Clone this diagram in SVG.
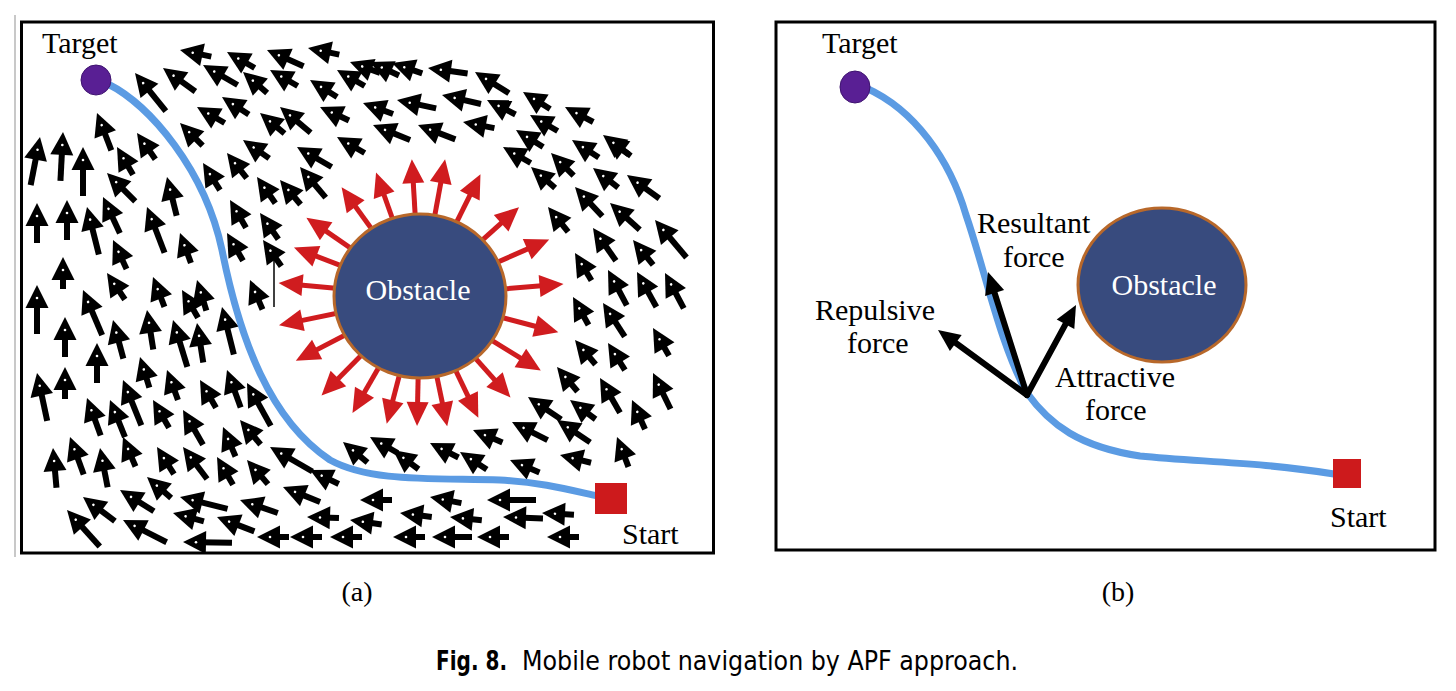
<svg xmlns="http://www.w3.org/2000/svg" xmlns:xlink="http://www.w3.org/1999/xlink" width="1456" height="691" viewBox="0 0 1456 691">
<style>
.frame{fill:none;stroke:#000;stroke-width:3}
.lbl{font-family:"Liberation Serif","Times New Roman",serif;font-size:30px;fill:#000}
.obs{font-family:"Liberation Serif","Times New Roman",serif;font-size:30px;fill:#fff;text-anchor:middle}
.cap{font-family:"Liberation Serif","Times New Roman",serif;font-size:28px;fill:#000;text-anchor:middle}
.fig{font-family:"DejaVu Sans","Liberation Sans",sans-serif;font-stretch:condensed;font-size:27px;fill:#000}
.path{fill:none;stroke:#5b9be3;stroke-width:7;stroke-linecap:round}
.force{stroke:#000;stroke-width:6;fill:none;stroke-linecap:round}
.obstacle{fill:#384b7e;stroke:#b8682a;stroke-width:3}
.target{fill:#591f94;stroke:#3f1470;stroke-width:1}
.start{fill:#cd1a1c}
</style>
<defs>
<g id="b30"><path d="M-32,0H-15" stroke="#000" stroke-width="6"/><path d="M0,0L-23,-11.5L-23,11.5Z" fill="#000"/><circle cx="-13" cy="0" r="1.3" fill="#fff"/></g>
<g id="b38"><path d="M-40,0H-15" stroke="#000" stroke-width="6"/><path d="M0,0L-23,-11.5L-23,11.5Z" fill="#000"/><circle cx="-13" cy="0" r="1.3" fill="#fff"/></g>
<g id="b48"><path d="M-49,0H-15" stroke="#000" stroke-width="6"/><path d="M0,0L-23,-11.5L-23,11.5Z" fill="#000"/><circle cx="-13" cy="0" r="1.3" fill="#fff"/></g>
<g id="ra"><path d="M60,0H120" stroke="#d01c1f" stroke-width="5"/><path d="M139,0L115,-11L115,11Z" fill="#d01c1f"/></g>
</defs>
<rect width="1456" height="691" fill="#fff"/>
<line x1="15" y1="15" x2="15" y2="557" stroke="#c8c8c8" stroke-width="2"/>

<g id="panel-a">
<rect class="frame" x="21.5" y="22" width="692" height="531"/>
<line x1="274" y1="258" x2="274" y2="307" stroke="#000" stroke-width="1.5"/>
</g>

<g id="field-a">
<use href="#b30" transform="translate(180 50) rotate(-168)"/>
<use href="#b30" transform="translate(227 52) rotate(-150)"/>
<use href="#b38" transform="translate(267 50) rotate(-156)"/>
<use href="#b30" transform="translate(308 48) rotate(-168)"/>
<use href="#b30" transform="translate(350 62) rotate(-160)"/>
<use href="#b48" transform="translate(135 73) rotate(-129)"/>
<use href="#b38" transform="translate(163 68) rotate(-144)"/>
<use href="#b38" transform="translate(203 65) rotate(-150)"/>
<use href="#b30" transform="translate(243 72) rotate(-139)"/>
<use href="#b30" transform="translate(270 70) rotate(-150)"/>
<use href="#b30" transform="translate(310 80) rotate(-148)"/>
<use href="#b30" transform="translate(337 70) rotate(-150)"/>
<use href="#b30" transform="translate(197 107) rotate(-150)"/>
<use href="#b30" transform="translate(222 97) rotate(-147)"/>
<use href="#b30" transform="translate(260 113) rotate(-140)"/>
<use href="#b38" transform="translate(280 107) rotate(-140)"/>
<use href="#b30" transform="translate(320 107) rotate(-155)"/>
<use href="#b38" transform="translate(97 113) rotate(-111)"/>
<use href="#b30" transform="translate(180 123) rotate(-135)"/>
<use href="#b30" transform="translate(137 133) rotate(-125)"/>
<use href="#b30" transform="translate(117 147) rotate(-120)"/>
<use href="#b30" transform="translate(243 140) rotate(-145)"/>
<use href="#b38" transform="translate(297 147) rotate(-150)"/>
<use href="#b30" transform="translate(337 137) rotate(-150)"/>
<use href="#b48" transform="translate(40 137) rotate(-79)"/>
<use href="#b48" transform="translate(63 132) rotate(-87)"/>
<use href="#b48" transform="translate(83 147) rotate(-90)"/>
<use href="#b38" transform="translate(107 173) rotate(-135)"/>
<use href="#b38" transform="translate(167 177) rotate(-104)"/>
<use href="#b30" transform="translate(203 163) rotate(-122)"/>
<use href="#b30" transform="translate(227 153) rotate(-128)"/>
<use href="#b30" transform="translate(257 177) rotate(-125)"/>
<use href="#b30" transform="translate(280 180) rotate(-130)"/>
<use href="#b38" transform="translate(300 167) rotate(-130)"/>
<use href="#b38" transform="translate(37 203) rotate(-90)"/>
<use href="#b38" transform="translate(67 200) rotate(-90)"/>
<use href="#b48" transform="translate(87 207) rotate(-104)"/>
<use href="#b38" transform="translate(103 197) rotate(-115)"/>
<use href="#b48" transform="translate(147 207) rotate(-111)"/>
<use href="#b30" transform="translate(230 200) rotate(-120)"/>
<use href="#b30" transform="translate(260 213) rotate(-125)"/>
<use href="#b30" transform="translate(180 233) rotate(-110)"/>
<use href="#b30" transform="translate(227 233) rotate(-120)"/>
<use href="#b30" transform="translate(113 240) rotate(-115)"/>
<use href="#b30" transform="translate(63 257) rotate(-90)"/>
<use href="#b30" transform="translate(263 240) rotate(-125)"/>
<use href="#b30" transform="translate(370 62) rotate(-155)"/>
<use href="#b30" transform="translate(392 63) rotate(-161)"/>
<use href="#b38" transform="translate(428 68) rotate(-172)"/>
<use href="#b38" transform="translate(475 72) rotate(-148)"/>
<use href="#b30" transform="translate(523 92) rotate(-148)"/>
<use href="#b30" transform="translate(565 107) rotate(-152)"/>
<use href="#b30" transform="translate(605 137) rotate(-144)"/>
<use href="#b38" transform="translate(627 175) rotate(-144)"/>
<use href="#b48" transform="translate(655 220) rotate(-130)"/>
<use href="#b30" transform="translate(363 103) rotate(-160)"/>
<use href="#b38" transform="translate(397 100) rotate(-168)"/>
<use href="#b38" transform="translate(442 95) rotate(-167)"/>
<use href="#b30" transform="translate(487 100) rotate(-153)"/>
<use href="#b30" transform="translate(530 115) rotate(-150)"/>
<use href="#b30" transform="translate(572 140) rotate(-147)"/>
<use href="#b30" transform="translate(593 168) rotate(-142)"/>
<use href="#b38" transform="translate(373 125) rotate(-158)"/>
<use href="#b38" transform="translate(418 125) rotate(-159)"/>
<use href="#b30" transform="translate(463 122) rotate(-169)"/>
<use href="#b30" transform="translate(516 130) rotate(-148)"/>
<use href="#b30" transform="translate(503 147) rotate(-150)"/>
<use href="#b30" transform="translate(551 153) rotate(-135)"/>
<use href="#b30" transform="translate(531 167) rotate(-139)"/>
<use href="#b30" transform="translate(603 135) rotate(-143)"/>
<use href="#b38" transform="translate(575 187) rotate(-133)"/>
<use href="#b38" transform="translate(610 203) rotate(-138)"/>
<use href="#b30" transform="translate(548 207) rotate(-129)"/>
<use href="#b38" transform="translate(593 228) rotate(-125)"/>
<use href="#b30" transform="translate(633 240) rotate(-129)"/>
<use href="#b30" transform="translate(575 253) rotate(-121)"/>
<use href="#b38" transform="translate(608 270) rotate(-118)"/>
<use href="#b38" transform="translate(637 272) rotate(-119)"/>
<use href="#b38" transform="translate(665 273) rotate(-118)"/>
<use href="#b30" transform="translate(573 297) rotate(-119)"/>
<use href="#b38" transform="translate(603 303) rotate(-123)"/>
<use href="#b30" transform="translate(653 328) rotate(-120)"/>
<use href="#b30" transform="translate(575 340) rotate(-130)"/>
<use href="#b30" transform="translate(608 343) rotate(-122)"/>
<use href="#b30" transform="translate(557 367) rotate(-130)"/>
<use href="#b38" transform="translate(600 378) rotate(-120)"/>
<use href="#b38" transform="translate(653 373) rotate(-116)"/>
<use href="#b38" transform="translate(528 397) rotate(-146)"/>
<use href="#b30" transform="translate(570 400) rotate(-143)"/>
<use href="#b30" transform="translate(632 400) rotate(-114)"/>
<use href="#b38" transform="translate(512 422) rotate(-153)"/>
<use href="#b38" transform="translate(557 420) rotate(-146)"/>
<use href="#b30" transform="translate(617 437) rotate(-111)"/>
<use href="#b30" transform="translate(473 430) rotate(-157)"/>
<use href="#b30" transform="translate(430 443) rotate(-153)"/>
<use href="#b30" transform="translate(393 450) rotate(-143)"/>
<use href="#b30" transform="translate(370 437) rotate(-150)"/>
<use href="#b30" transform="translate(460 452) rotate(-147)"/>
<use href="#b30" transform="translate(510 460) rotate(-157)"/>
<use href="#b30" transform="translate(560 455) rotate(-166)"/>
<use href="#b30" transform="translate(343 442) rotate(-140)"/>
<use href="#b30" transform="translate(360 500) rotate(180)"/>
<use href="#b30" transform="translate(430 497) rotate(-169)"/>
<use href="#b48" transform="translate(487 500) rotate(180)"/>
<use href="#b30" transform="translate(400 513) rotate(-173)"/>
<use href="#b30" transform="translate(450 517) rotate(-174)"/>
<use href="#b38" transform="translate(503 517) rotate(-178)"/>
<use href="#b30" transform="translate(542 513) rotate(-177)"/>
<use href="#b30" transform="translate(393 537) rotate(180)"/>
<use href="#b38" transform="translate(432 537) rotate(180)"/>
<use href="#b30" transform="translate(477 537) rotate(180)"/>
<use href="#b30" transform="translate(547 537) rotate(180)"/>
<use href="#b30" transform="translate(350 520) rotate(-172)"/>
<use href="#b48" transform="translate(37 285) rotate(-90)"/>
<use href="#b38" transform="translate(65 317) rotate(-90)"/>
<use href="#b38" transform="translate(97 343) rotate(-90)"/>
<use href="#b30" transform="translate(65 367) rotate(-90)"/>
<use href="#b48" transform="translate(37 373) rotate(-102)"/>
<use href="#b38" transform="translate(53 448) rotate(-95)"/>
<use href="#b38" transform="translate(70 437) rotate(-110)"/>
<use href="#b38" transform="translate(100 448) rotate(-101)"/>
<use href="#b38" transform="translate(87 398) rotate(-110)"/>
<use href="#b38" transform="translate(110 400) rotate(-112)"/>
<use href="#b48" transform="translate(123 380) rotate(-112)"/>
<use href="#b38" transform="translate(113 320) rotate(-105)"/>
<use href="#b48" transform="translate(83 290) rotate(-113)"/>
<use href="#b30" transform="translate(107 273) rotate(-124)"/>
<use href="#b30" transform="translate(153 277) rotate(-111)"/>
<use href="#b30" transform="translate(182 290) rotate(-120)"/>
<use href="#b30" transform="translate(197 280) rotate(-107)"/>
<use href="#b38" transform="translate(147 310) rotate(-99)"/>
<use href="#b48" transform="translate(173 320) rotate(-107)"/>
<use href="#b38" transform="translate(197 323) rotate(-99)"/>
<use href="#b48" transform="translate(222 307) rotate(-104)"/>
<use href="#b30" transform="translate(250 280) rotate(-113)"/>
<use href="#b30" transform="translate(140 357) rotate(-107)"/>
<use href="#b30" transform="translate(167 370) rotate(-110)"/>
<use href="#b30" transform="translate(200 380) rotate(-120)"/>
<use href="#b38" transform="translate(227 370) rotate(-110)"/>
<use href="#b48" transform="translate(247 383) rotate(-119)"/>
<use href="#b30" transform="translate(153 400) rotate(-120)"/>
<use href="#b38" transform="translate(183 410) rotate(-120)"/>
<use href="#b30" transform="translate(223 427) rotate(-113)"/>
<use href="#b30" transform="translate(240 420) rotate(-130)"/>
<use href="#b30" transform="translate(123 437) rotate(-113)"/>
<use href="#b30" transform="translate(157 447) rotate(-122)"/>
<use href="#b38" transform="translate(183 447) rotate(-127)"/>
<use href="#b30" transform="translate(217 457) rotate(-120)"/>
<use href="#b30" transform="translate(247 460) rotate(-131)"/>
<use href="#b48" transform="translate(270 447) rotate(-150)"/>
<use href="#b30" transform="translate(310 470) rotate(-154)"/>
<use href="#b38" transform="translate(283 487) rotate(-158)"/>
<use href="#b38" transform="translate(83 497) rotate(-143)"/>
<use href="#b38" transform="translate(120 490) rotate(-148)"/>
<use href="#b30" transform="translate(147 477) rotate(-139)"/>
<use href="#b48" transform="translate(180 497) rotate(-166)"/>
<use href="#b30" transform="translate(173 513) rotate(-165)"/>
<use href="#b38" transform="translate(217 517) rotate(-159)"/>
<use href="#b38" transform="translate(240 500) rotate(-161)"/>
<use href="#b30" transform="translate(307 517) rotate(-178)"/>
<use href="#b48" transform="translate(67 510) rotate(-132)"/>
<use href="#b48" transform="translate(123 520) rotate(-153)"/>
<use href="#b48" transform="translate(183 542) rotate(-179)"/>
<use href="#b30" transform="translate(257 537) rotate(180)"/>
<use href="#b30" transform="translate(290 537) rotate(180)"/>
<use href="#b30" transform="translate(330 537) rotate(180)"/>
</g>

<g id="repulsive-a">
<use href="#ra" transform="translate(420 296) rotate(-93.4) translate(-2 0)"/>
<use href="#ra" transform="translate(420 296) rotate(-79.6)"/>
<use href="#ra" transform="translate(420 296) rotate(-109.6) translate(-8 0)"/>
<use href="#ra" transform="translate(420 296) rotate(-63.6) translate(-3 0)"/>
<use href="#ra" transform="translate(420 296) rotate(-125.8) translate(-5 0)"/>
<use href="#ra" transform="translate(420 296) rotate(-41.9) translate(-6 0)"/>
<use href="#ra" transform="translate(420 296) rotate(-145.4) translate(-1 0)"/>
<use href="#ra" transform="translate(420 296) rotate(-23.6) translate(2 0)"/>
<use href="#ra" transform="translate(420 296) rotate(-159) translate(-4 0)"/>
<use href="#ra" transform="translate(420 296) rotate(-4.8) translate(5 0)"/>
<use href="#ra" transform="translate(420 296) rotate(-174.7) translate(3 0)"/>
<use href="#ra" transform="translate(420 296) rotate(14.7) translate(4 0)"/>
<use href="#ra" transform="translate(420 296) rotate(168.3) translate(5 0)"/>
<use href="#ra" transform="translate(420 296) rotate(31.7) translate(3 0)"/>
<use href="#ra" transform="translate(420 296) rotate(152.5) translate(1 0)"/>
<use href="#ra" transform="translate(420 296) rotate(48.3) translate(-3 0)"/>
<use href="#ra" transform="translate(420 296) rotate(134.7) translate(1 0)"/>
<use href="#ra" transform="translate(420 296) rotate(64.4) translate(-4 0)"/>
<use href="#ra" transform="translate(420 296) rotate(120) translate(-4 0)"/>
<use href="#ra" transform="translate(420 296) rotate(78.2) translate(-6 0)"/>
<use href="#ra" transform="translate(420 296) rotate(104.6) translate(-7 0)"/>
<use href="#ra" transform="translate(420 296) rotate(91.3) translate(-9 0)"/>
</g>

<g id="path-a">
<path class="path" d="M108,84 C150,105 205,170 222,250 C240,340 270,420 330,460 C370,482 430,478 500,480 C540,482 570,490 597,496"/>
</g>

<g id="obstacle-a">
<ellipse class="obstacle" cx="420" cy="296" rx="86" ry="82"/>
<text class="obs" x="418" y="300">Obstacle</text>
</g>
<g id="target-a">
<circle class="target" cx="96" cy="80" r="15"/>
<text class="lbl" x="42" y="53">Target</text>
</g>
<g id="start-a">
<rect class="start" x="595" y="483" width="32" height="31"/>
<text class="lbl" x="622" y="544">Start</text>
</g>

<g id="panel-b">
<rect class="frame" x="776" y="22" width="659" height="528"/>
</g>
<g id="path-b">
<path class="path" d="M866,88 C915,110 950,160 966,215 C985,270 1000,345 1027,393 C1050,425 1080,447 1140,456 C1200,462 1260,462 1334,474"/>
</g>
<g id="forces-b">
<path class="force" d="M1027,395 L994.6,293"/>
<path d="M988,272 L1004.1,290 L985.1,296 Z" fill="#000"/>
<path class="force" d="M1027,395 L955.8,343"/>
<path d="M938,330 L961.7,334.9 L949.9,351.1 Z" fill="#000"/>
<path class="force" d="M1027,395 L1065.5,324.3"/>
<path d="M1076,305 L1074.3,329.1 L1056.7,319.5 Z" fill="#000"/>
</g>
<g id="obstacle-b">
<ellipse class="obstacle" cx="1162" cy="285" rx="84" ry="77"/>
<text class="obs" x="1164" y="295">Obstacle</text>
</g>
<g id="target-b">
<ellipse class="target" cx="855" cy="87" rx="15" ry="16"/>
<text class="lbl" x="822" y="53">Target</text>
</g>
<g id="start-b">
<rect class="start" x="1333" y="459" width="28" height="29"/>
<text class="lbl" x="1330" y="527">Start</text>
</g>
<g id="labels-b">
<text class="lbl" x="977" y="233">Resultant</text>
<text class="lbl" x="1003" y="267">force</text>
<text class="lbl" x="815" y="320">Repulsive</text>
<text class="lbl" x="847" y="353">force</text>
<text class="lbl" x="1055" y="387">Attractive</text>
<text class="lbl" x="1085" y="420">force</text>
</g>

<g id="captions">
<text class="cap" x="357" y="601">(a)</text>
<text class="cap" x="1118" y="601">(b)</text>
<text class="fig" x="436" y="670" font-weight="bold" textLength="71" lengthAdjust="spacingAndGlyphs">Fig. 8.</text>
<text class="fig" x="522" y="670" textLength="496" lengthAdjust="spacingAndGlyphs">Mobile robot navigation by APF approach.</text>
</g>
</svg>
